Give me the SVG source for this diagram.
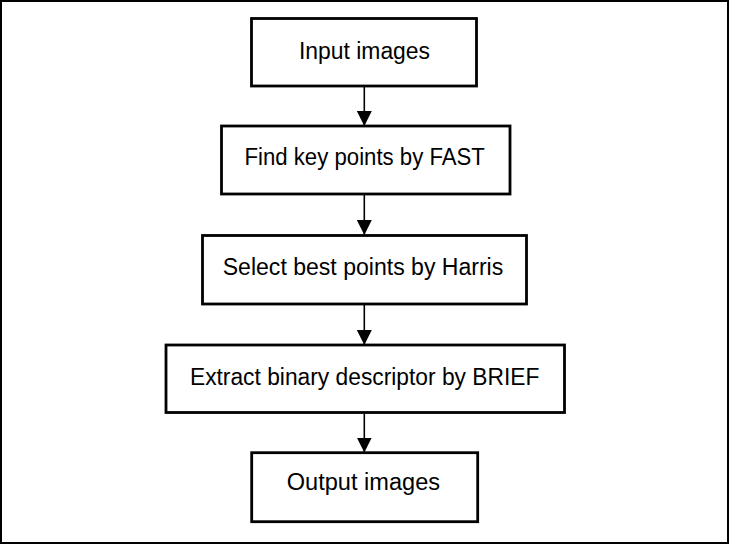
<svg xmlns="http://www.w3.org/2000/svg" width="730" height="545" viewBox="0 0 730 545">
<style>
.box{fill:#fff;stroke:#000;stroke-width:2.8}
.lbl{font-family:"Liberation Sans",Arial,sans-serif;font-size:23px;fill:#000;text-anchor:middle}
.con{stroke:#000;stroke-width:1.6;fill:none}
</style>
<defs>
<marker id="ah" markerUnits="userSpaceOnUse" markerWidth="16" markerHeight="16" refX="15" refY="7.5" orient="auto">
<path d="M0,0 L15,7.5 L0,15 Z" fill="#000"/>
</marker>
</defs>
<rect x="1" y="1" width="727" height="542" fill="#fff" stroke="#000" stroke-width="2"/>
<g id="connectors">
<line class="con" x1="364.3" y1="87" x2="364.3" y2="126" marker-end="url(#ah)"/>
<line class="con" x1="364.3" y1="195" x2="364.3" y2="235" marker-end="url(#ah)"/>
<line class="con" x1="364.3" y1="305" x2="364.3" y2="345" marker-end="url(#ah)"/>
<line class="con" x1="364.3" y1="414" x2="364.3" y2="452.5" marker-end="url(#ah)"/>
</g>
<g id="n1">
<rect class="box" x="251.5" y="18.5" width="225" height="67.5"/>
<text class="lbl" x="364.5" y="58.5" textLength="131" lengthAdjust="spacingAndGlyphs">Input images</text>
</g>
<g id="n2">
<rect class="box" x="221.5" y="126" width="288.5" height="68"/>
<text class="lbl" x="364.7" y="164.5" textLength="240.5" lengthAdjust="spacingAndGlyphs">Find key points by FAST</text>
</g>
<g id="n3">
<rect class="box" x="202.5" y="235.5" width="324" height="68.5"/>
<text class="lbl" x="363" y="274.5" textLength="280.5" lengthAdjust="spacingAndGlyphs">Select best points by Harris</text>
</g>
<g id="n4">
<rect class="box" x="166" y="345" width="398.5" height="67.5"/>
<text class="lbl" x="364.7" y="384.5" textLength="349.5" lengthAdjust="spacingAndGlyphs">Extract binary descriptor by BRIEF</text>
</g>
<g id="n5">
<rect class="box" x="251.7" y="452.7" width="226" height="69"/>
<text class="lbl" x="363.4" y="489.5" textLength="153.3" lengthAdjust="spacingAndGlyphs">Output images</text>
</g>
</svg>
